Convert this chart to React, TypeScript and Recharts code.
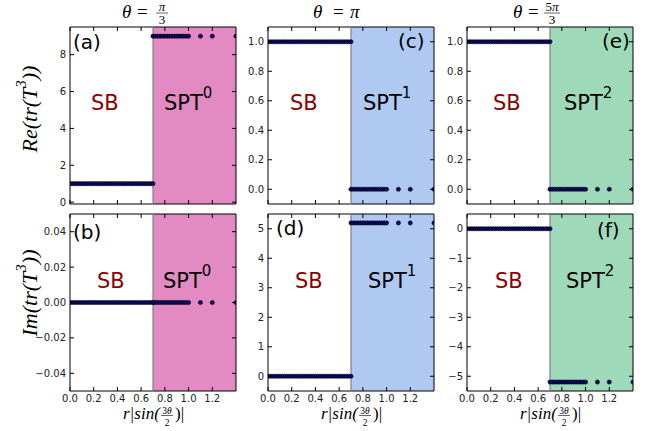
import React from "react";
import { ScatterChart, Scatter, XAxis, YAxis, ReferenceArea, ReferenceLine } from "recharts";

// x = r|sin(3θ/2)| sample points
const xSB = [0, 0.02, 0.04, 0.06, 0.08, 0.1, 0.12, 0.14, 0.16, 0.18, 0.2, 0.22, 0.24, 0.26, 0.28, 0.3, 0.32, 0.34, 0.36, 0.38, 0.4, 0.42, 0.44, 0.46, 0.48, 0.5, 0.52, 0.54, 0.56, 0.58, 0.6, 0.62, 0.64, 0.66, 0.68, 0.7];
const xSPT = [0.7, 0.72, 0.74, 0.76, 0.78, 0.8, 0.82, 0.84, 0.86, 0.88, 0.9, 0.92, 0.94, 0.96, 0.98, 1.0, 1.1, 1.2, 1.4];

// one entry per column: θ = π/3, π, 5π/3
const reSB = [1, 1, 1];
const reSPT = [9, 0, 0];
const imSB = [0, 0, 0];
const imSPT = [0, 5.196, -5.196];

const xTicks = [0, 0.2, 0.4, 0.6, 0.8, 1.0, 1.2];
const reDomains = [[-0.1, 9.5], [-0.1, 1.1], [-0.1, 1.1]];
const imDomains = [[-0.05, 0.05], [-0.5, 5.5], [-5.5, 0.5]];
const reTicks = [[0, 2, 4, 6, 8], [0, 0.2, 0.4, 0.6, 0.8, 1.0], [0, 0.2, 0.4, 0.6, 0.8, 1.0]];
const imTicks = [[-0.04, -0.02, 0, 0.02, 0.04], [0, 1, 2, 3, 4, 5], [-5, -4, -3, -2, -1, 0]];
const reDigits = [0, 1, 1];
const imDigits = [2, 0, 0];
const sptIndex = ["0", "1", "2"];
const letters = [["(a)", "(b)"], ["(c)", "(d)"], ["(e)", "(f)"]];
const phaseColors = ["#e38ac3", "#b0c9f2", "#9ed9b9"];

// layout
const COL_LEFT = [70, 268, 467];
const ROW_TOP = [27, 214];
const PW = 166;
const PH = 177;
const ML = 45;
const MT = 6;
const MR = 8;
const MB = 24;
const SANS = "DejaVu Sans";
const SERIF = "Liberation Serif";

const fmt = (v: number, d: number) => v.toFixed(d).replace("-", "\u2212");

const dot = (p: any) => (
  <circle cx={p.cx} cy={p.cy} r={2.1} fill="#0b0b5c" stroke="#000022" strokeWidth={0.6} />
);

function XTick({ x, y, payload, show }: any) {
  return (
    <g>
      <line x1={x} x2={x} y1={y} y2={y - 4} stroke="#000" />
      <line x1={x} x2={x} y1={y - PH} y2={y - PH + 4} stroke="#000" />
      {show && (
        <text x={x} y={y + 11} textAnchor="middle" fontSize={10} fill="#222" fontFamily={SANS}>
          {payload.value.toFixed(1)}
        </text>
      )}
    </g>
  );
}

function YTick({ x, y, payload, digits }: any) {
  return (
    <g>
      <line x1={x} x2={x + 4} y1={y} y2={y} stroke="#000" />
      <line x1={x + PW - 4} x2={x + PW} y1={y} y2={y} stroke="#000" />
      <text x={x - 4} y={y + 3.5} textAnchor="end" fontSize={10} fill="#222" fontFamily={SANS}>
        {fmt(payload.value, digits)}
      </text>
    </g>
  );
}

function Panel({ left, top, domain, ticks, digits, sbY, sptY, shade, showX }: any) {
  const sb = xSB.map((x) => ({ x, y: sbY }));
  const spt = xSPT.map((x) => ({ x, y: sptY }));
  return (
    <div style={{ position: "absolute", left: left - ML, top: top - MT }}>
      <ScatterChart width={ML + PW + MR} height={MT + PH + MB} margin={{ top: MT, right: MR, left: 0, bottom: 0 }}>
        <ReferenceArea x1={0.7} x2={1.4} y1={domain[0]} y2={domain[1]} fill={shade} fillOpacity={1} stroke="none" />
        <ReferenceLine x={0.7} stroke="#808080" strokeWidth={1.2} />
        <Scatter data={sb} shape={dot} isAnimationActive={false} />
        <Scatter data={spt} shape={dot} isAnimationActive={false} />
        <ReferenceArea x1={0} x2={1.4} y1={domain[0]} y2={domain[1]} fill="none" stroke="#000" strokeWidth={1} />
        <XAxis
          type="number"
          dataKey="x"
          domain={[0, 1.4]}
          ticks={xTicks}
          interval={0}
          height={MB}
          tickSize={0}
          tickMargin={0}
          tickLine={false}
          axisLine={false}
          allowDataOverflow
          tick={(p: any) => <XTick {...p} show={showX} />}
        />
        <YAxis
          type="number"
          dataKey="y"
          domain={domain}
          ticks={ticks}
          interval={0}
          width={ML}
          tickSize={0}
          tickMargin={0}
          tickLine={false}
          axisLine={false}
          allowDataOverflow
          tick={(p: any) => <YTick {...p} digits={digits} />}
        />
      </ScatterChart>
    </div>
  );
}

const textPos = [
  [{ l: [73, 49], sb: [91, 110], spt: [164, 110] }, { l: [73, 239], sb: [97, 288], spt: [163, 288] }],
  [{ l: [398, 48], sb: [290, 110], spt: [363, 110] }, { l: [276, 235], sb: [295, 288], spt: [368, 288] }],
  [{ l: [602, 48], sb: [493, 110], spt: [564, 110] }, { l: [597, 237], sb: [495, 288], spt: [566, 288] }],
];

function XLabel({ cx }: { cx: number }) {
  const s = cx - 32;
  return (
    <g fontFamily={SERIF} fill="#000">
      <text x={s} y={419} fontSize={17} fontStyle="italic">r|sin(</text>
      <text x={s + 44} y={413.5} fontSize={9.5} textAnchor="middle">
        3<tspan fontStyle="italic">θ</tspan>
      </text>
      <line x1={s + 38} x2={s + 50} y1={415.5} y2={415.5} stroke="#000" strokeWidth={0.6} />
      <text x={s + 44} y={425.5} fontSize={9.5} textAnchor="middle">2</text>
      <text x={s + 52} y={419} fontSize={17}>)|</text>
    </g>
  );
}

export default function App() {
  return (
    <div style={{ position: "absolute", left: 0, top: 0, width: 662, height: 431, background: "#fff" }}>
      {[0, 1, 2].map((c) => (
        <React.Fragment key={c}>
          <Panel
            left={COL_LEFT[c]}
            top={ROW_TOP[0]}
            domain={reDomains[c]}
            ticks={reTicks[c]}
            digits={reDigits[c]}
            sbY={reSB[c]}
            sptY={reSPT[c]}
            shade={phaseColors[c]}
            showX={false}
          />
          <Panel
            left={COL_LEFT[c]}
            top={ROW_TOP[1]}
            domain={imDomains[c]}
            ticks={imTicks[c]}
            digits={imDigits[c]}
            sbY={imSB[c]}
            sptY={imSPT[c]}
            shade={phaseColors[c]}
            showX={true}
          />
        </React.Fragment>
      ))}
      <svg width={662} height={431} style={{ position: "absolute", left: 0, top: 0, pointerEvents: "none" }}>
        {textPos.map((col, c) =>
          col.map((p, r) => (
            <g key={`${c}-${r}`}>
              <text x={p.l[0]} y={p.l[1]} fontSize={20} fontFamily={SANS} fill="#000">{letters[c][r]}</text>
              <text x={p.sb[0]} y={p.sb[1]} fontSize={21} fontFamily={SANS} fill="#8b0000">SB</text>
              <text x={p.spt[0]} y={p.spt[1]} fontSize={21} fontFamily={SANS} fill="#000">
                SPT<tspan dy={-12} fontSize={15}>{sptIndex[c]}</tspan>
              </text>
            </g>
          ))
        )}

        {/* column titles */}
        <g fontFamily={SERIF} fill="#000" fontSize={19}>
          <text x={122} y={18} fontStyle="italic">θ</text>
          <text x={137} y={18}>=</text>
          <text x={162} y={10.5} fontSize={13} textAnchor="middle" fontStyle="italic">π</text>
          <line x1={156} x2={168} y1={13} y2={13} stroke="#000" strokeWidth={0.6} />
          <text x={162} y={24} fontSize={13} textAnchor="middle">3</text>

          <text x={313} y={18} fontStyle="italic">θ</text>
          <text x={333} y={18}>=</text>
          <text x={350} y={18} fontStyle="italic">π</text>

          <text x={513} y={18} fontStyle="italic">θ</text>
          <text x={528} y={18}>=</text>
          <text x={552} y={10.5} fontSize={13} textAnchor="middle">5<tspan fontStyle="italic">π</tspan></text>
          <line x1={544} x2={560} y1={13} y2={13} stroke="#000" strokeWidth={0.6} />
          <text x={552} y={24} fontSize={13} textAnchor="middle">3</text>
        </g>

        {/* y labels */}
        <text transform="translate(29,109) rotate(-90)" textAnchor="middle" dominantBaseline="central" fontFamily={SERIF} fontStyle="italic" fontSize={22}>
          Re(tr(T<tspan dy={-8} fontSize={15}>3</tspan><tspan dy={8}>))</tspan>
        </text>
        <text transform="translate(29,293) rotate(-90)" textAnchor="middle" dominantBaseline="central" fontFamily={SERIF} fontStyle="italic" fontSize={22}>
          Im(tr(T<tspan dy={-8} fontSize={15}>3</tspan><tspan dy={8}>))</tspan>
        </text>

        {COL_LEFT.map((l) => (
          <XLabel key={l} cx={l + PW / 2 + 2} />
        ))}
      </svg>
    </div>
  );
}
